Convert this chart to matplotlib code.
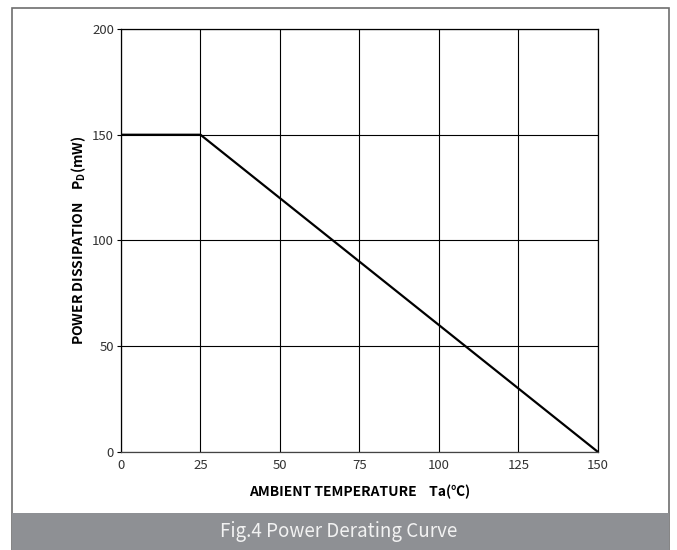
import matplotlib
matplotlib.use("Agg")
import matplotlib.pyplot as plt
from matplotlib.patches import Rectangle

plt.rcParams['font.family'] = ['Noto Sans CJK SC', 'DejaVu Sans']

# derating curve: temperature (C) vs power dissipation (mW)
temp = [0, 25, 150]
power = [150, 150, 0]
x_ticks = [0, 25, 50, 75, 100, 125, 150]
y_ticks = [0, 50, 100, 150, 200]

fig = plt.figure(figsize=(6.77, 5.50), dpi=100)

# outer frame and caption bar
fig.patches.append(Rectangle((0.0177, -0.01), 0.9705, 0.9955, transform=fig.transFigure,
                             fill=False, edgecolor='#6e6e6e', linewidth=1.2))
fig.patches.append(Rectangle((0.0177, 0.0), 0.9705, 0.0673, transform=fig.transFigure,
                             facecolor='#8e9094', edgecolor='none'))
fig.text(0.50, 0.034, 'Fig.4 Power Derating Curve', ha='center', va='center',
         color='#f2f2f2', fontsize=13.5)

ax = fig.add_axes([0.1787, 0.1782, 0.7046, 0.7691])
ax.plot(temp, power, color='black', linewidth=1.6)
ax.set_xlim(0, 150)
ax.set_ylim(0, 200)
ax.set_xticks(x_ticks)
ax.set_yticks(y_ticks)
ax.grid(True, color='black', linewidth=0.8)
ax.set_axisbelow(True)
for s in ax.spines.values():
    s.set_linewidth(0.9)
ax.spines['bottom'].set_color('#444444')
ax.tick_params(axis='both', labelsize=9.5, labelcolor='#333333', color='black')
ax.tick_params(axis='y', length=3, width=0.8, pad=2)
ax.tick_params(axis='x', length=0, pad=5)

ax.set_xlabel('AMBIENT TEMPERATURE    Ta(℃)', fontsize=10, fontweight='bold', labelpad=9)
ax.set_ylabel('POWER DISSIPATION    P$_\\mathregular{D}$(mW)', fontsize=10,
              fontweight='bold', labelpad=3)

fig.savefig('out.png', dpi=100)
